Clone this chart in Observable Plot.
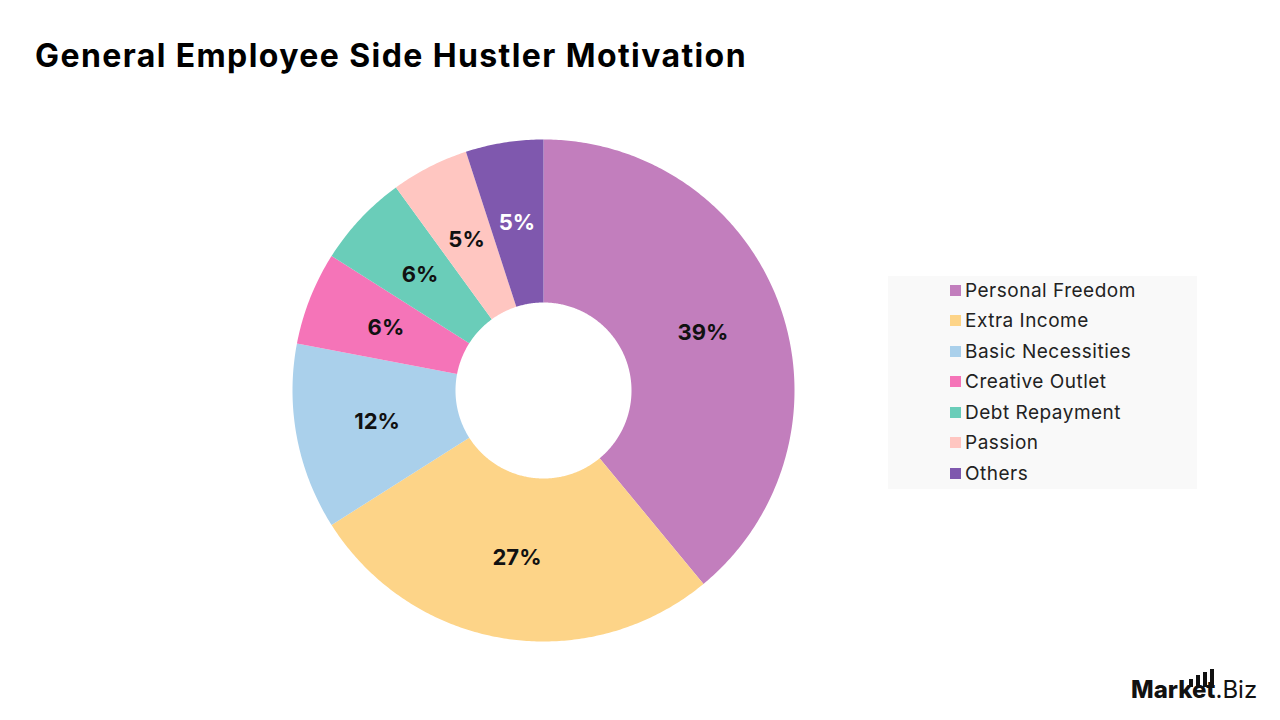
<!DOCTYPE html>
<html><head><meta charset="utf-8">
<script src="https://cdn.jsdelivr.net/npm/d3@7"></script>
<script src="https://cdn.jsdelivr.net/npm/@observablehq/plot@0.6"></script>
<style>
body{margin:0;background:#fff;font-family:Inter,"Open Sans",sans-serif;}
#wrap{position:relative;width:1280px;height:720px;overflow:hidden;background:#fff}
#title{position:absolute;left:35px;top:37px;font-size:32px;letter-spacing:1.4px;font-weight:700;color:#000;white-space:nowrap;line-height:1.2}
#chart{position:absolute;left:0;top:100px}
#legend{position:absolute;left:888px;top:276px;width:309px;height:213px;background:#f9f9f9}
#legend .row{position:absolute;left:62px;height:30px;display:flex;align-items:center;font-size:19px;letter-spacing:0.5px;color:#222;white-space:nowrap}
#legend .sw{width:11px;height:11px;margin-right:4px;flex:none}
#logo{position:absolute;left:1131px;top:676px;font-size:24px;color:#111;white-space:nowrap;line-height:1.2}
#logo b{font-weight:800}
.bar{position:absolute;background:#111;width:4px}
</style></head>
<body><div id="wrap">
<div id="title">General Employee Side Hustler Motivation</div>
<div id="chart"></div>
<div id="legend"></div>
<div id="logo"><b>Market</b>.Biz</div>
<div class="bar" style="left:1189px;top:679px;height:8px"></div>
<div class="bar" style="left:1196px;top:675px;height:12px"></div>
<div class="bar" style="left:1203px;top:672px;height:15px"></div>
<div class="bar" style="left:1210px;top:669px;height:18px"></div>
</div>
<script>
const categories = ["Personal Freedom","Extra Income","Basic Necessities","Creative Outlet","Debt Repayment","Passion","Others"];
const values = [39, 27, 12, 6, 6, 5, 5];
const palette = ["#c27ebd","#fdd488","#aad0eb","#f574b8","#6acdb9","#ffc6c1","#7f58ae"];

const innerR = 88/251, outerR = 1;
const arcs = d3.pie().sort(null).value(d => d.value)(categories.map((c,i)=>({category:c, value:values[i]})));
const pt = (a, r) => ({x: r*Math.sin(a), y: -r*Math.cos(a)});
const polys = [];
const labels = [];
for (const a of arcs) {
  const n = Math.max(8, Math.ceil((a.endAngle - a.startAngle) / 0.01));
  for (let k = 0; k <= n; k++) {
    const t = a.startAngle + (a.endAngle - a.startAngle) * k / n;
    polys.push({category: a.data.category, ...pt(t, outerR)});
  }
  for (let k = n; k >= 0; k--) {
    const t = a.startAngle + (a.endAngle - a.startAngle) * k / n;
    polys.push({category: a.data.category, ...pt(t, innerR)});
  }
  const m = (a.startAngle + a.endAngle) / 2;
  labels.push({category: a.data.category, text: a.data.value + "%", ...pt(m, (innerR + outerR) / 2)});
}

const chart = Plot.plot({
  width: 1280, height: 620, margin: 0,
  style: {background: "transparent", overflow: "visible"},
  x: {domain: [-1, 1], range: [292, 794], axis: null},
  y: {domain: [-1, 1], range: [39, 541], axis: null},
  color: {domain: categories, range: palette},
  marks: [
    Plot.line(polys, {x: "x", y: "y", z: "category", fill: "category", stroke: "none", curve: "linear"}),
    Plot.text(labels.filter(d => d.category !== "Others"), {x: "x", y: "y", text: "text", fill: "#111", fontSize: 22, fontWeight: 700, fontFamily: "Inter, sans-serif"}),
    Plot.text(labels.filter(d => d.category === "Others"), {x: "x", y: "y", text: "text", fill: "#fff", fontSize: 22, fontWeight: 700, fontFamily: "Inter, sans-serif"})
  ]
});
document.getElementById("chart").appendChild(chart);

const leg = document.getElementById("legend");
categories.forEach((c, i) => {
  const row = document.createElement("div");
  row.className = "row";
  row.style.top = (-1 + i * 30.5) + "px";
  const sw = document.createElement("div");
  sw.className = "sw";
  sw.style.background = palette[i];
  row.appendChild(sw);
  row.appendChild(document.createTextNode(c));
  leg.appendChild(row);
});
</script>
</body></html>
